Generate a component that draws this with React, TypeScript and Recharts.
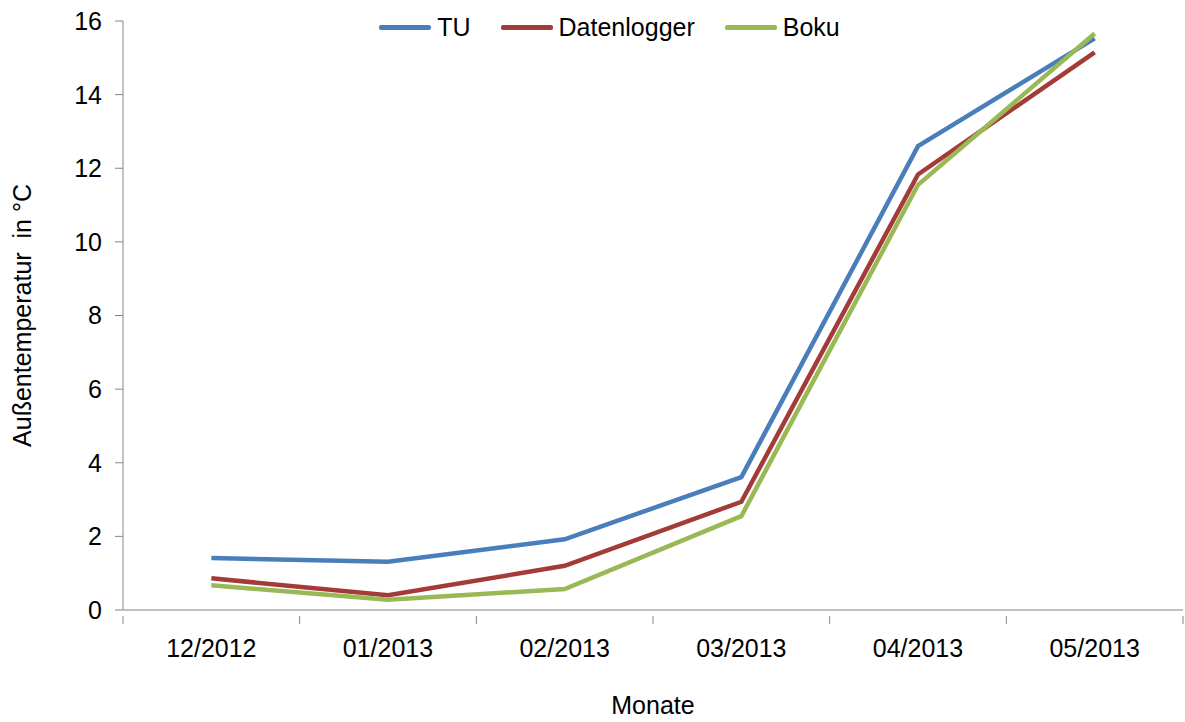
import { LineChart, Line, XAxis, YAxis, Legend, Label } from 'recharts';

// month categories on the x axis
const months = ['12/2012', '01/2013', '02/2013', '03/2013', '04/2013', '05/2013'];

// monthly mean outdoor temperature (°C) per source
const tu = [1.41, 1.31, 1.92, 3.61, 12.6, 15.53];
const datenlogger = [0.86, 0.4, 1.2, 2.94, 11.83, 15.15];
const boku = [0.67, 0.28, 0.57, 2.55, 11.55, 15.66];

const yTicks = [0, 2, 4, 6, 8, 10, 12, 14, 16];

const seriesInfo = [
  { key: 'TU', color: '#4A7EBB' },
  { key: 'Datenlogger', color: '#A33B38' },
  { key: 'Boku', color: '#98B954' },
];

const data = months.map((m, i) => ({
  month: m,
  TU: tu[i],
  Datenlogger: datenlogger[i],
  Boku: boku[i],
}));

const W = 1185;
const H = 722;
const FONT = '"Liberation Sans", Arial, sans-serif';
const AXIS_COLOR = '#868686';

// tick: label in band centre, tick mark at band boundary (Excel style)
function MonthTick(props: any) {
  const { x, y, payload, index, width, visibleTicksCount } = props;
  const half = width / (2 * visibleTicksCount);
  return (
    <g>
      <line x1={x - half} x2={x - half} y1={y - 15 - 8} y2={y - 15} stroke={AXIS_COLOR} />
      {index === visibleTicksCount - 1 && (
        <line x1={x + half} x2={x + half} y1={y - 15 - 8} y2={y - 15} stroke={AXIS_COLOR} />
      )}
      <text x={x} y={y} dy="0.71em" textAnchor="middle" fill="#000" fontSize={25}>
        {payload.value}
      </text>
    </g>
  );
}

function LegendBox() {
  return (
    <div style={{ display: 'flex', justifyContent: 'center', alignItems: 'center', paddingLeft: 64, fontFamily: FONT, fontSize: 25, color: '#000' }}>
      {seriesInfo.map((s) => (
        <div key={s.key} style={{ display: 'flex', alignItems: 'center', marginRight: 30 }}>
          <div style={{ width: 52, height: 4.5, background: s.color, borderRadius: 2, marginRight: 6 }} />
          <span>{s.key}</span>
        </div>
      ))}
    </div>
  );
}

export default function App() {
  const plotWidth = W - 123 - 2;
  const halfBand = plotWidth / (2 * months.length);
  return (
    <div style={{ position: 'absolute', left: 0, top: 0, width: W, height: H, background: '#fff' }}>
      <LineChart
        width={W}
        height={H}
        data={data}
        margin={{ top: 21, right: 2, bottom: 0, left: 0 }}
        style={{ fontFamily: FONT }}
      >
        <XAxis
          dataKey="month"
          height={112}
          padding={{ left: halfBand, right: halfBand }}
          stroke={AXIS_COLOR}
          tickLine={false}
          tickMargin={0}
          interval={0}
          tick={(p: any) => <MonthTick {...p} y={p.y + 23} />}
        >
          <Label value="Monate" position="insideBottom" offset={8} fill="#000" fontSize={25} />
        </XAxis>
        <YAxis
          width={123}
          domain={[0, 16]}
          ticks={yTicks}
          interval={0}
          stroke={AXIS_COLOR}
          tickSize={8}
          tickMargin={13}
          tick={{ fill: '#000', fontSize: 25 }}
        >
          <Label
            value={'Außentemperatur\u00A0\u00A0in °C'}
            angle={-90}
            position="insideLeft"
            offset={22}
            fill="#000"
            fontSize={25}
            style={{ textAnchor: 'middle' }}
          />
        </YAxis>
        <Legend
          verticalAlign="middle"
          align="center"
          wrapperStyle={{ top: 13, left: 0, width: W }}
          content={() => <LegendBox />}
        />
        {seriesInfo.map((s) => (
          <Line
            key={s.key}
            dataKey={s.key}
            stroke={s.color}
            strokeWidth={4.5}
            dot={false}
            activeDot={false}
            isAnimationActive={false}
          />
        ))}
      </LineChart>
    </div>
  );
}
